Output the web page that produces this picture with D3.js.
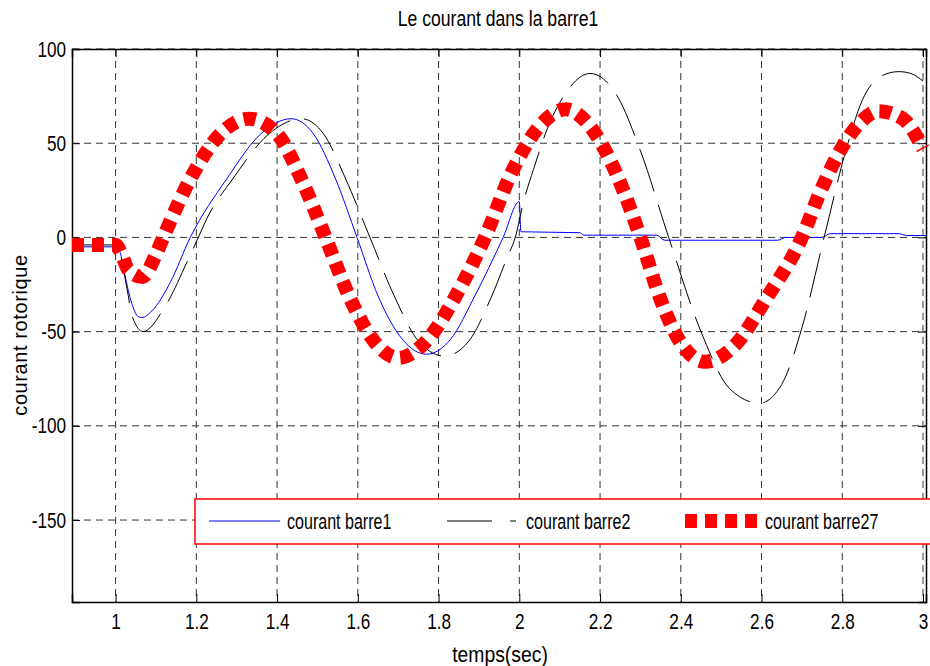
<!DOCTYPE html>
<html>
<head>
<meta charset="utf-8">
<script src="https://cdn.jsdelivr.net/npm/d3@7"></script>
<style>
  body { margin: 0; background: #fff; }
  text { font-family: "Liberation Sans", Arial, sans-serif; fill: #000; }
</style>
</head>
<body>
<script>
var width = 930;
var height = 666;

var margin = {top: 49, bottom: 64, left: 72, right: 4};

// tick labels
var xTicks = [1, 1.2, 1.4, 1.6, 1.8, 2, 2.2, 2.4, 2.6, 2.8, 3];
var yTicks = [100, 50, 0, -50, -100, -150];

// courant barre1 (blue, solid)
var tBarre1 = [0.892, 1.0, 1.011, 1.023, 1.04, 1.056, 1.065, 1.09, 1.135, 1.185, 1.275, 1.36, 1.435,
  1.49, 1.545, 1.598, 1.65, 1.71, 1.77, 1.83, 1.89, 1.96, 2.0, 2.004, 2.15, 2.16, 2.34, 2.36,
  2.64, 2.66, 2.75, 2.77, 2.94, 2.96, 3.007];
var vBarre1 = [-5, -5, -8, -20, -35, -42, -42.5, -39, -24, 0, 31, 55, 63,
  55, 31, 0, -31, -54, -62, -54, -31, 0, 19, 3, 2.5, 1.2, 1.2, -1.5,
  -1.5, 0, 0, 2, 2, 1, 1];

// courant barre2 (black, long dashes)
var tBarre2 = [0.892, 1.0, 1.015, 1.028, 1.043, 1.068, 1.09, 1.11, 1.13, 1.177, 1.205, 1.226, 1.29, 1.375, 1.46,
  1.515, 1.57, 1.63, 1.69, 1.75, 1.815, 1.875, 1.93, 1.97, 1.99, 2.01, 2.035, 2.07, 2.11, 2.175,
  2.24, 2.3, 2.37, 2.45, 2.52, 2.595, 2.65, 2.70, 2.755, 2.81, 2.85, 2.9, 2.94, 2.97, 3.0];
var vBarre2 = [-4, -4, -12, -27, -43, -50, -47, -41, -34, -13, 0, 10, 31, 54, 63,
  55, 31, 0, -31, -55, -63, -55, -32, -10.6, 0, 18.6, 36, 58, 75, 87,
  76, 46, 0, -50, -80, -88, -78, -48, 0, 47, 73, 86, 88, 87, 83];

// courant barre27 (red, thick dashes)
var tBarre27 = [0.892, 1.0, 1.015, 1.031, 1.066, 1.098, 1.118, 1.19, 1.26, 1.33,
  1.40, 1.46, 1.52, 1.58, 1.64, 1.70, 1.77, 1.84, 1.915, 1.98, 2.05, 2.115,
  2.175, 2.24, 2.30, 2.35, 2.40, 2.46, 2.535, 2.61, 2.70, 2.745, 2.80, 2.84, 2.89, 2.95, 3.0];
var vBarre27 = [-4, -4, -9, -17, -21, -10, 0, 33, 55, 63,
  55, 31, 0, -32, -55, -64, -55, -32, 0, 34, 59, 68,
  59, 34, 0, -33, -56, -66, -57, -33, 0, 24, 48, 60, 67, 63, 47];

var svg = d3.select("body").append("svg")
    .attr("width", width)
    .attr("height", height);

var xScale = d3.scaleLinear()
    .domain([0.892, 3.0074])
    .range([margin.left, width - margin.right]);

var yScale = d3.scaleLinear()
    .domain([-193.5, 100])
    .range([height - margin.bottom, margin.top]);

var x0 = xScale.range()[0], x1 = xScale.range()[1];
var y0 = yScale.range()[0], y1 = yScale.range()[1];

// grid
svg.append("g").selectAll("line")
    .data(xTicks)
    .enter().append("line")
    .attr("x1", d => xScale(d)).attr("x2", d => xScale(d))
    .attr("y1", y1).attr("y2", y0)
    .attr("stroke", "#333").attr("stroke-width", 1)
    .attr("stroke-dasharray", "7,5");

svg.append("g").selectAll("line")
    .data(yTicks)
    .enter().append("line")
    .attr("x1", x0).attr("x2", x1)
    .attr("y1", d => yScale(d)).attr("y2", d => yScale(d))
    .attr("stroke", "#333").attr("stroke-width", 1)
    .attr("stroke-dasharray", "7,5");

// axes (ticks inside, matlab style)
var fmt = d => String(d);
var gx = svg.append("g")
    .attr("transform", "translate(0," + y0 + ")")
    .call(d3.axisBottom(xScale).tickValues(xTicks).tickFormat(fmt).tickSize(-8).tickPadding(11));
svg.append("g")
    .attr("transform", "translate(0," + y1 + ")")
    .call(d3.axisTop(xScale).tickValues(xTicks).tickFormat("").tickSize(-8));
var gy = svg.append("g")
    .attr("transform", "translate(" + x0 + ",0)")
    .call(d3.axisLeft(yScale).tickValues(yTicks).tickFormat(fmt).tickSize(-8).tickPadding(6));
svg.append("g")
    .attr("transform", "translate(" + x1 + ",0)")
    .call(d3.axisRight(yScale).tickValues(yTicks).tickFormat("").tickSize(-8));

svg.selectAll(".domain").attr("stroke", "#000").attr("stroke-width", 1.5);
svg.selectAll(".tick line").attr("stroke", "#000");
svg.selectAll(".tick text").attr("font-size", 22)
    .attr("font-family", "'Liberation Sans', Arial, sans-serif");
// narrow, tall digits
gx.selectAll(".tick text").attr("transform", "scale(0.78,1)");
gy.selectAll(".tick text").attr("x", -6 / 0.78).attr("transform", "scale(0.78,1)");

// series
var line = d3.line()
    .x(d => xScale(d[0]))
    .y(d => yScale(d[1]))
    .curve(d3.curveMonotoneX);

var plot = svg.append("g");

plot.append("path")
    .datum(d3.zip(tBarre1, vBarre1))
    .attr("d", line)
    .attr("fill", "none")
    .attr("stroke", "#0000ff")
    .attr("stroke-width", 1);

plot.append("path")
    .datum(d3.zip(tBarre2, vBarre2))
    .attr("d", line)
    .attr("fill", "none")
    .attr("stroke", "#000")
    .attr("stroke-width", 1)
    .attr("stroke-dasharray", "45,14");

plot.append("path")
    .datum(d3.zip(tBarre27, vBarre27))
    .attr("d", line)
    .attr("fill", "none")
    .attr("stroke", "#ff0000")
    .attr("stroke-width", 14)
    .attr("stroke-dasharray", "12,8");

// title and labels
function narrowText(x, y, sx, txt, anchor) {
  return svg.append("text")
    .attr("transform", "translate(" + x + "," + y + ") scale(" + sx + ",1)")
    .attr("text-anchor", anchor || "middle")
    .attr("font-size", 22)
    .text(txt);
}

narrowText(498, 26, 0.8, "Le courant dans la barre1");
narrowText(500, 662, 0.88, "temps(sec)");

svg.append("text")
    .attr("transform", "translate(27,335) rotate(-90)")
    .attr("text-anchor", "middle")
    .attr("font-size", 20)
    .attr("letter-spacing", 0.6)
    .text("courant rotorique");

// legend
var legend = svg.append("g");
legend.append("rect")
    .attr("x", 195).attr("y", 499)
    .attr("width", 745).attr("height", 45)
    .attr("fill", "#fff")
    .attr("stroke", "#ff0000").attr("stroke-width", 1.5);

var legendItems = [
  {name: "courant barre1", color: "#0000ff", w: 1, dash: null, lx: 209, lx2: 280, tx: 287},
  {name: "courant barre2", color: "#000", w: 1, dash: "45,18", lx: 447, lx2: 516, tx: 526},
  {name: "courant barre27", color: "#ff0000", w: 14, dash: "12,8", lx: 685, lx2: 757, tx: 765}
];
legendItems.forEach(function(it){
  legend.append("line")
    .attr("x1", it.lx).attr("x2", it.lx2)
    .attr("y1", 521).attr("y2", 521)
    .attr("stroke", it.color).attr("stroke-width", it.w)
    .attr("stroke-dasharray", it.dash);
  legend.append("text")
    .attr("transform", "translate(" + it.tx + ",529) scale(0.73,1)")
    .attr("font-size", 22)
    .text(it.name);
});
</script>
</body>
</html>
